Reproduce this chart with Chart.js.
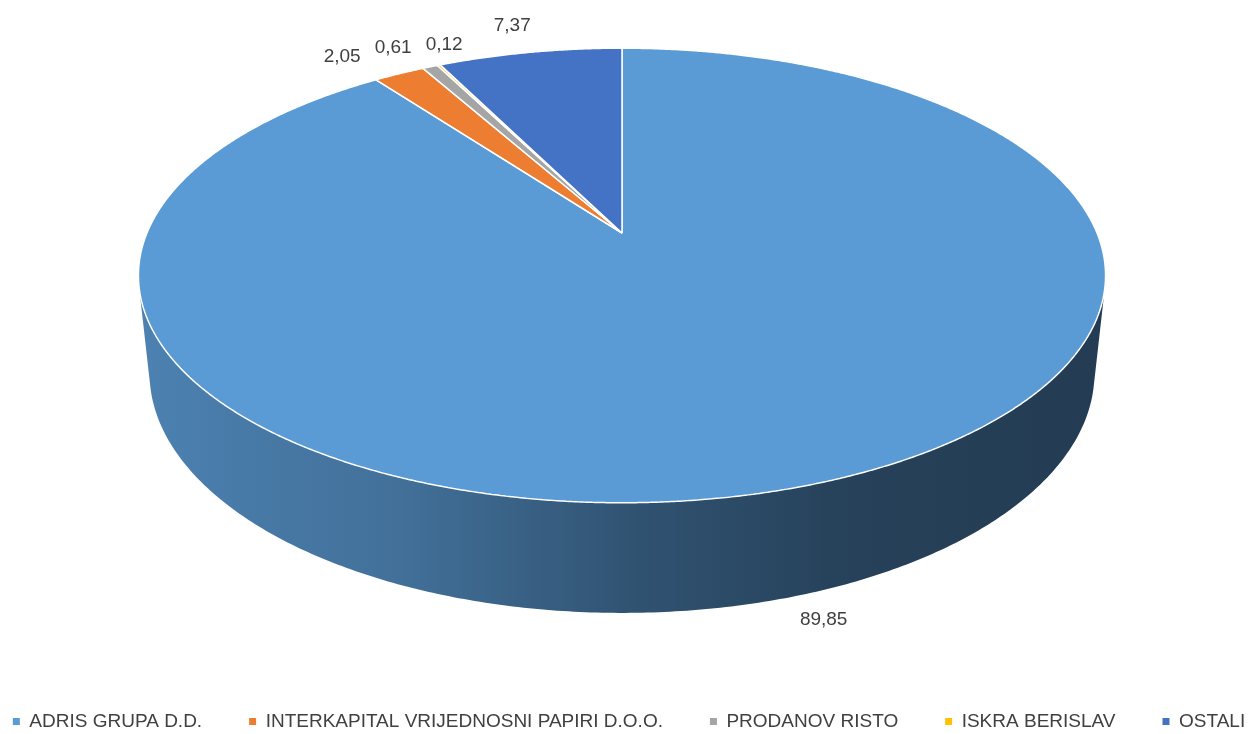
<!DOCTYPE html>
<html>
<head>
<meta charset="utf-8">
<script src="https://cdn.jsdelivr.net/npm/chart.js@4.4.0/dist/chart.umd.min.js"></script>
<style>
  html, body { margin: 0; padding: 0; background: #fff; overflow: hidden; }
  #frame { width: 1258px; height: 734px; overflow: hidden; position: relative; }
  /* the canvas is a bit wider than the window so the legend fits on one row */
  #ownership-chart { position: absolute; left: -41px; top: 0; }
</style>
</head>
<body>
<div id="frame"><canvas id="ownership-chart" width="1340" height="734"></canvas></div>
<script>
const labels = ['ADRIS GRUPA D.D.', 'INTERKAPITAL VRIJEDNOSNI PAPIRI D.O.O.', 'PRODANOV RISTO', 'ISKRA BERISLAV', 'OSTALI'];
const shares = [89.85, 2.05, 0.61, 0.12, 7.37];
const sliceColors = ['#5B9BD5', '#ED7D31', '#A5A5A5', '#FFC000', '#4472C4'];

const FONT = "'Liberation Sans', Arial, sans-serif";
const TEXT_COLOR = '#404040';
const CANVAS_SHIFT = 41;

// Perspective camera fitted to the reference picture (pie radius = 1)
const CAM = { ox: 622 + CANVAS_SHIFT, oy: 233, focal: 2255, dist: 4.747, tilt: 27.5 * Math.PI / 180, depth: 0.233 };

function project(u, v, z) {
	// u to the right, v towards the viewer, z up
	const c = Math.cos(CAM.tilt), s = Math.sin(CAM.tilt);
	const d = CAM.dist - v * c - z * s;
	return { x: CAM.ox + CAM.focal * u / d, y: CAM.oy + CAM.focal * (v * s - z * c) / d };
}

function shade(hex, f) {
	const n = parseInt(hex.slice(1), 16);
	const r = Math.round(((n >> 16) & 255) * f);
	const g = Math.round(((n >> 8) & 255) * f);
	const b = Math.round((n & 255) * f);
	return 'rgb(' + r + ',' + g + ',' + b + ')';
}

/**
 * Side wall of the tilted pie, drawn under the top face
 */
function drawWalls(chart) {
	const ctx = chart.ctx;
	const meta = chart.getDatasetMeta(0);
	const edge = Math.asin(1 / (CAM.dist * Math.cos(CAM.tilt)));
	const xLeft = project(Math.cos(Math.PI - edge), Math.sin(Math.PI - edge), 0).x;
	const xRight = project(Math.cos(edge), Math.sin(edge), 0).x;

	meta.data.forEach((arc, i) => {
		const from = Math.max(arc.startAngle, edge);
		const to = Math.min(arc.endAngle, Math.PI - edge);
		if (to <= from) return;

		const steps = Math.max(2, Math.ceil((to - from) / 0.01));
		ctx.save();
		ctx.beginPath();
		for (let k = 0; k <= steps; k++) {
			const t = from + (to - from) * k / steps;
			const p = project(Math.cos(t), Math.sin(t), 0);
			if (k === 0) ctx.moveTo(p.x, p.y); else ctx.lineTo(p.x, p.y);
		}
		for (let k = steps; k >= 0; k--) {
			const t = from + (to - from) * k / steps;
			const p = project(Math.cos(t), Math.sin(t), -CAM.depth);
			ctx.lineTo(p.x, p.y);
		}
		ctx.closePath();

		const color = sliceColors[i];
		const grad = ctx.createLinearGradient(xLeft, 0, xRight, 0);
		grad.addColorStop(0, shade(color, 0.83));
		grad.addColorStop(0.27, shade(color, 0.72));
		grad.addColorStop(0.52, shade(color, 0.53));
		grad.addColorStop(0.74, shade(color, 0.42));
		grad.addColorStop(1, shade(color, 0.39));
		ctx.fillStyle = grad;
		ctx.fill();
		ctx.restore();
	});
}

/**
 * Route Chart.js path calls for the arcs through the camera
 */
function startProjection(chart) {
	const ctx = chart.ctx;
	const arc0 = chart.getDatasetMeta(0).data[0];
	const cx = arc0.x, cy = arc0.y, R = arc0.outerRadius;
	const proto = CanvasRenderingContext2D.prototype;
	const toScreen = (x, y) => project((x - cx) / R, (y - cy) / R, 0);

	ctx.moveTo = function(x, y) {
		const p = toScreen(x, y);
		proto.moveTo.call(ctx, p.x, p.y);
	};
	ctx.lineTo = function(x, y) {
		const p = toScreen(x, y);
		proto.lineTo.call(ctx, p.x, p.y);
	};
	ctx.arc = function(x, y, r, a0, a1, ccw) {
		if (!ccw) { while (a1 < a0) a1 += Math.PI * 2; }
		else { while (a1 > a0) a1 -= Math.PI * 2; }
		const n = Math.max(1, Math.ceil(Math.abs(a1 - a0) / 0.005));
		for (let k = 0; k <= n; k++) {
			const t = a0 + (a1 - a0) * k / n;
			ctx.lineTo(x + r * Math.cos(t), y + r * Math.sin(t));
		}
	};
}

function stopProjection(chart) {
	const ctx = chart.ctx;
	delete ctx.moveTo;
	delete ctx.lineTo;
	delete ctx.arc;
}

/**
 * Value labels outside the pie, pushed apart when they collide
 */
function drawValueLabels(chart) {
	const ctx = chart.ctx;
	const meta = chart.getDatasetMeta(0);
	const apex = project(0, 0, 0);
	const gap = 20;

	ctx.save();
	ctx.font = '19px ' + FONT;
	ctx.fillStyle = TEXT_COLOR;
	ctx.textAlign = 'center';
	ctx.textBaseline = 'middle';

	const boxes = meta.data.map((arc, i) => {
		const mid = (arc.startAngle + arc.endAngle) / 2;
		const u = Math.cos(mid), v = Math.sin(mid);
		const top = project(u, v, 0);
		const rim = v > 0.24 ? project(u, v, -CAM.depth) : top;
		let dx = top.x - apex.x, dy = top.y - apex.y;
		const len = Math.hypot(dx, dy) || 1;
		dx /= len; dy /= len;
		const text = shares[i].toFixed(2).replace('.', ',');
		const w = ctx.measureText(text).width, h = 19;
		return { text, w, h, x: rim.x + dx * (gap + w / 2), y: rim.y + dy * (gap + h / 2) };
	});

	for (let it = 0; it < 200; it++) {
		const sorted = boxes.slice().sort((a, b) => a.x - b.x);
		for (let i = 0; i < sorted.length - 1; i++) {
			const a = sorted[i], b = sorted[i + 1];
			const need = (a.w + b.w) / 2 + 14;
			if (Math.abs(a.y - b.y) < a.h && b.x - a.x < need) {
				const push = (need - (b.x - a.x)) / 2;
				a.x -= push;
				b.x += push;
			}
		}
	}

	boxes.forEach(b => ctx.fillText(b.text, b.x, b.y));
	ctx.restore();
}

const tiltedPie = {
	id: 'tiltedPie',
	beforeDatasetsDraw(chart) {
		drawWalls(chart);
		startProjection(chart);
	},
	afterDatasetsDraw(chart) {
		stopProjection(chart);
		drawValueLabels(chart);
	}
};

const baseLegendLabels = Chart.overrides.doughnut.plugins.legend.labels.generateLabels;

new Chart(document.getElementById('ownership-chart'), {
	type: 'pie',
	data: {
		labels: labels,
		datasets: [{
			data: shares,
			backgroundColor: sliceColors,
			borderColor: '#fff',
			borderWidth: 1.5,
			clip: false
		}]
	},
	options: {
		responsive: false,
		animation: false,
		events: [],
		layout: {
			padding: { bottom: -7 }
		},
		plugins: {
			legend: {
				position: 'bottom',
				labels: {
					boxWidth: 7,
					boxHeight: 7,
					padding: 47,
					color: TEXT_COLOR,
					font: { family: FONT, size: 19 },
					generateLabels: chart => baseLegendLabels(chart).map(item => Object.assign(item, { lineWidth: 0 }))
				}
			},
			tooltip: { enabled: false }
		}
	},
	plugins: [tiltedPie]
});
</script>
</body>
</html>
